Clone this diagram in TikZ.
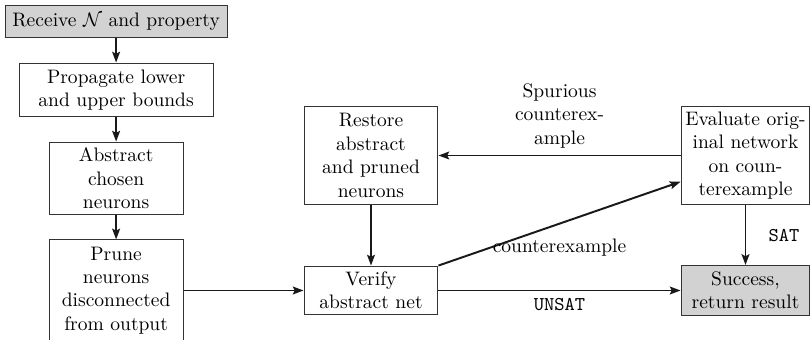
\documentclass[tikz,border=0pt]{standalone}
\usepackage{amsmath,amssymb}
\usepackage{xcolor}
\usepackage{tikz}
\usetikzlibrary{arrows.meta,positioning,calc}

\begin{document}
\begin{tikzpicture}[
    stage/.style={draw=black!80,line width=0.5pt,align=center,
      inner sep=2pt,font=\normalsize},
    endpoint/.style={stage,fill=gray!35},
    use/.style={-{Stealth[length=5.5pt,width=4pt,inset=1pt]},
      line width=1pt,draw=black!90}
  ]
    \useasboundingbox (0,0) rectangle (14.598,6.102);

    \node[endpoint,minimum width=4.0cm,minimum height=0.56cm] (recv) at (2.09,5.715)
      {Receive $\mathcal{N}$ and property};
    \node[stage,minimum width=3.49cm,minimum height=0.97cm] (prop) at (2.09,4.482)
      {Propagate lower\\and upper bounds};
    \node[stage,minimum width=2.41cm,minimum height=1.31cm] (abst) at (2.09,2.889)
      {Abstract\\chosen\\neurons};
    \node[stage,minimum width=2.41cm,minimum height=1.82cm] (prune) at (2.09,0.873)
      {Prune\\neurons\\disconnected\\from output};

    \node[stage,minimum width=2.41cm,minimum height=1.75cm] (restore) at (6.678,3.303)
      {Restore\\abstract\\and pruned\\neurons};
    \node[stage,minimum width=2.41cm,minimum height=0.88cm] (verify) at (6.678,0.873)
      {Verify\\abstract net};

    \node[stage,minimum width=2.32cm,minimum height=1.78cm] (eval) at (13.419,3.303)
      {Evaluate orig-\\inal network\\on coun-\\terexample};
    \node[endpoint,minimum width=2.32cm,minimum height=0.9cm] (succ) at (13.419,0.873)
      {Success,\\return result};

    \foreach \a/\b in {recv/prop,prop/abst,abst/prune} {
      \draw[use] (\a.south) -- (\b.north);
    }
    \draw[use] (prune.east) -- (verify.west);
    \draw[use] (restore.south) -- (verify.north);

    \draw[use] (eval.west) -- node[above,align=center] {Spurious\\counterex-\\ample}
      (restore.east);
    \draw[use] (verify.north east) -- node[below=4pt] {counterexample} (eval.202);
    \draw[use] (verify.east) -- node[below] {\texttt{UNSAT}} (succ.west);
    \draw[use] (eval.south) -- node[right=8pt] {\texttt{SAT}} (succ.north);
  \end{tikzpicture}
\end{document}
